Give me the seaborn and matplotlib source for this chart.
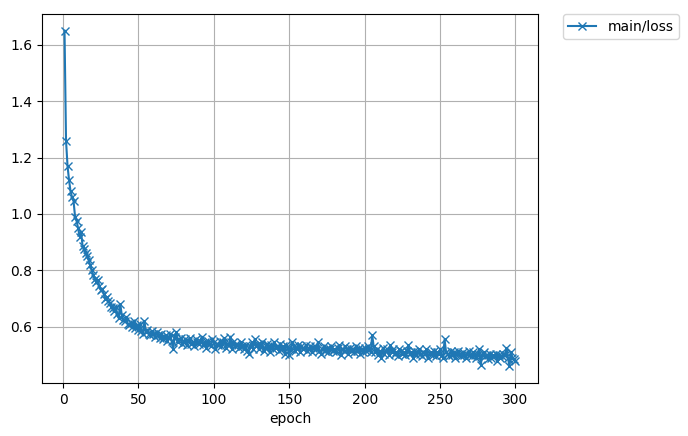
import numpy as np
import pandas as pd
import matplotlib
matplotlib.use('Agg')
import matplotlib.pyplot as plt
import seaborn as sns

# loss per epoch
loss_01_30 = [1.65, 1.26, 1.17, 1.12, 1.08, 1.06, 1.045, 0.99, 0.975, 0.95,
              0.92, 0.935, 0.885, 0.875, 0.86, 0.85, 0.835, 0.82, 0.80, 0.785,
              0.77, 0.76, 0.765, 0.745, 0.73, 0.735, 0.715, 0.70, 0.705, 0.69]
loss_31_60 = [0.685, 0.67, 0.665, 0.655, 0.67, 0.645, 0.63, 0.68, 0.64, 0.625,
              0.62, 0.635, 0.61, 0.605, 0.615, 0.60, 0.62, 0.595, 0.605, 0.59,
              0.61, 0.585, 0.575, 0.62, 0.58, 0.59, 0.575, 0.57, 0.585, 0.575]
loss_61_90 = [0.565, 0.58, 0.57, 0.56, 0.575, 0.555, 0.565, 0.57, 0.55, 0.56,
              0.575, 0.55, 0.52, 0.565, 0.58, 0.545, 0.555, 0.56, 0.54, 0.545,
              0.555, 0.535, 0.55, 0.56, 0.54, 0.545, 0.53, 0.555, 0.545, 0.54]
loss_91_120 = [0.55, 0.565, 0.535, 0.545, 0.525, 0.55, 0.54, 0.53, 0.555, 0.545,
               0.52, 0.54, 0.535, 0.55, 0.53, 0.545, 0.56, 0.525, 0.54, 0.535,
               0.565, 0.52, 0.545, 0.53, 0.54, 0.535, 0.525, 0.545, 0.53, 0.52]
loss_121_150 = [0.535, 0.515, 0.505, 0.53, 0.545, 0.52, 0.555, 0.53, 0.54, 0.52,
                0.535, 0.545, 0.515, 0.525, 0.54, 0.53, 0.51, 0.535, 0.52, 0.545,
                0.525, 0.53, 0.515, 0.54, 0.52, 0.53, 0.505, 0.535, 0.525, 0.50]
loss_151_180 = [0.52, 0.545, 0.53, 0.515, 0.525, 0.535, 0.51, 0.53, 0.52, 0.525,
                0.535, 0.515, 0.52, 0.53, 0.51, 0.525, 0.53, 0.52, 0.545, 0.515,
                0.505, 0.52, 0.53, 0.515, 0.525, 0.51, 0.52, 0.53, 0.515, 0.52]
loss_181_210 = [0.51, 0.525, 0.535, 0.50, 0.52, 0.515, 0.53, 0.52, 0.505, 0.525,
                0.515, 0.52, 0.51, 0.53, 0.515, 0.525, 0.505, 0.52, 0.51, 0.525,
                0.515, 0.53, 0.52, 0.51, 0.57, 0.53, 0.51, 0.52, 0.50, 0.515]
loss_211_240 = [0.49, 0.525, 0.505, 0.515, 0.52, 0.50, 0.535, 0.51, 0.52, 0.505,
                0.51, 0.495, 0.52, 0.515, 0.505, 0.51, 0.50, 0.515, 0.535, 0.505,
                0.51, 0.49, 0.515, 0.50, 0.51, 0.52, 0.505, 0.495, 0.51, 0.505]
loss_241_270 = [0.52, 0.49, 0.505, 0.51, 0.50, 0.515, 0.495, 0.51, 0.505, 0.52,
                0.50, 0.49, 0.555, 0.51, 0.505, 0.495, 0.515, 0.50, 0.51, 0.49,
                0.505, 0.515, 0.50, 0.495, 0.51, 0.50, 0.49, 0.505, 0.515, 0.50]
loss_271_300 = [0.495, 0.51, 0.50, 0.49, 0.505, 0.52, 0.465, 0.50, 0.51, 0.495,
                0.50, 0.485, 0.505, 0.49, 0.50, 0.495, 0.505, 0.48, 0.50, 0.49,
                0.495, 0.505, 0.50, 0.525, 0.49, 0.46, 0.51, 0.49, 0.485, 0.48]

loss = (loss_01_30 + loss_31_60 + loss_61_90 + loss_91_120 + loss_121_150
        + loss_151_180 + loss_181_210 + loss_211_240 + loss_241_270 + loss_271_300)
epoch = list(range(1, len(loss) + 1))

df = pd.DataFrame({'epoch': epoch, 'main/loss': loss})

fig = plt.figure(figsize=(6.88, 4.36), dpi=100)
ax = fig.add_axes([0.061, 0.1216, 0.721, 0.8465])

sns.lineplot(data=df, x='epoch', y='main/loss', ax=ax, marker='x',
             color='C0', markeredgecolor='C0', markeredgewidth=1.0,
             markersize=6, linewidth=1.5, label='main/loss')

ax.set_xlabel('epoch')
ax.set_ylabel('')
ax.grid(True)
ax.legend(bbox_to_anchor=(1.05, 1), loc='upper left', borderaxespad=0)

fig.savefig('out.png', dpi=100)
